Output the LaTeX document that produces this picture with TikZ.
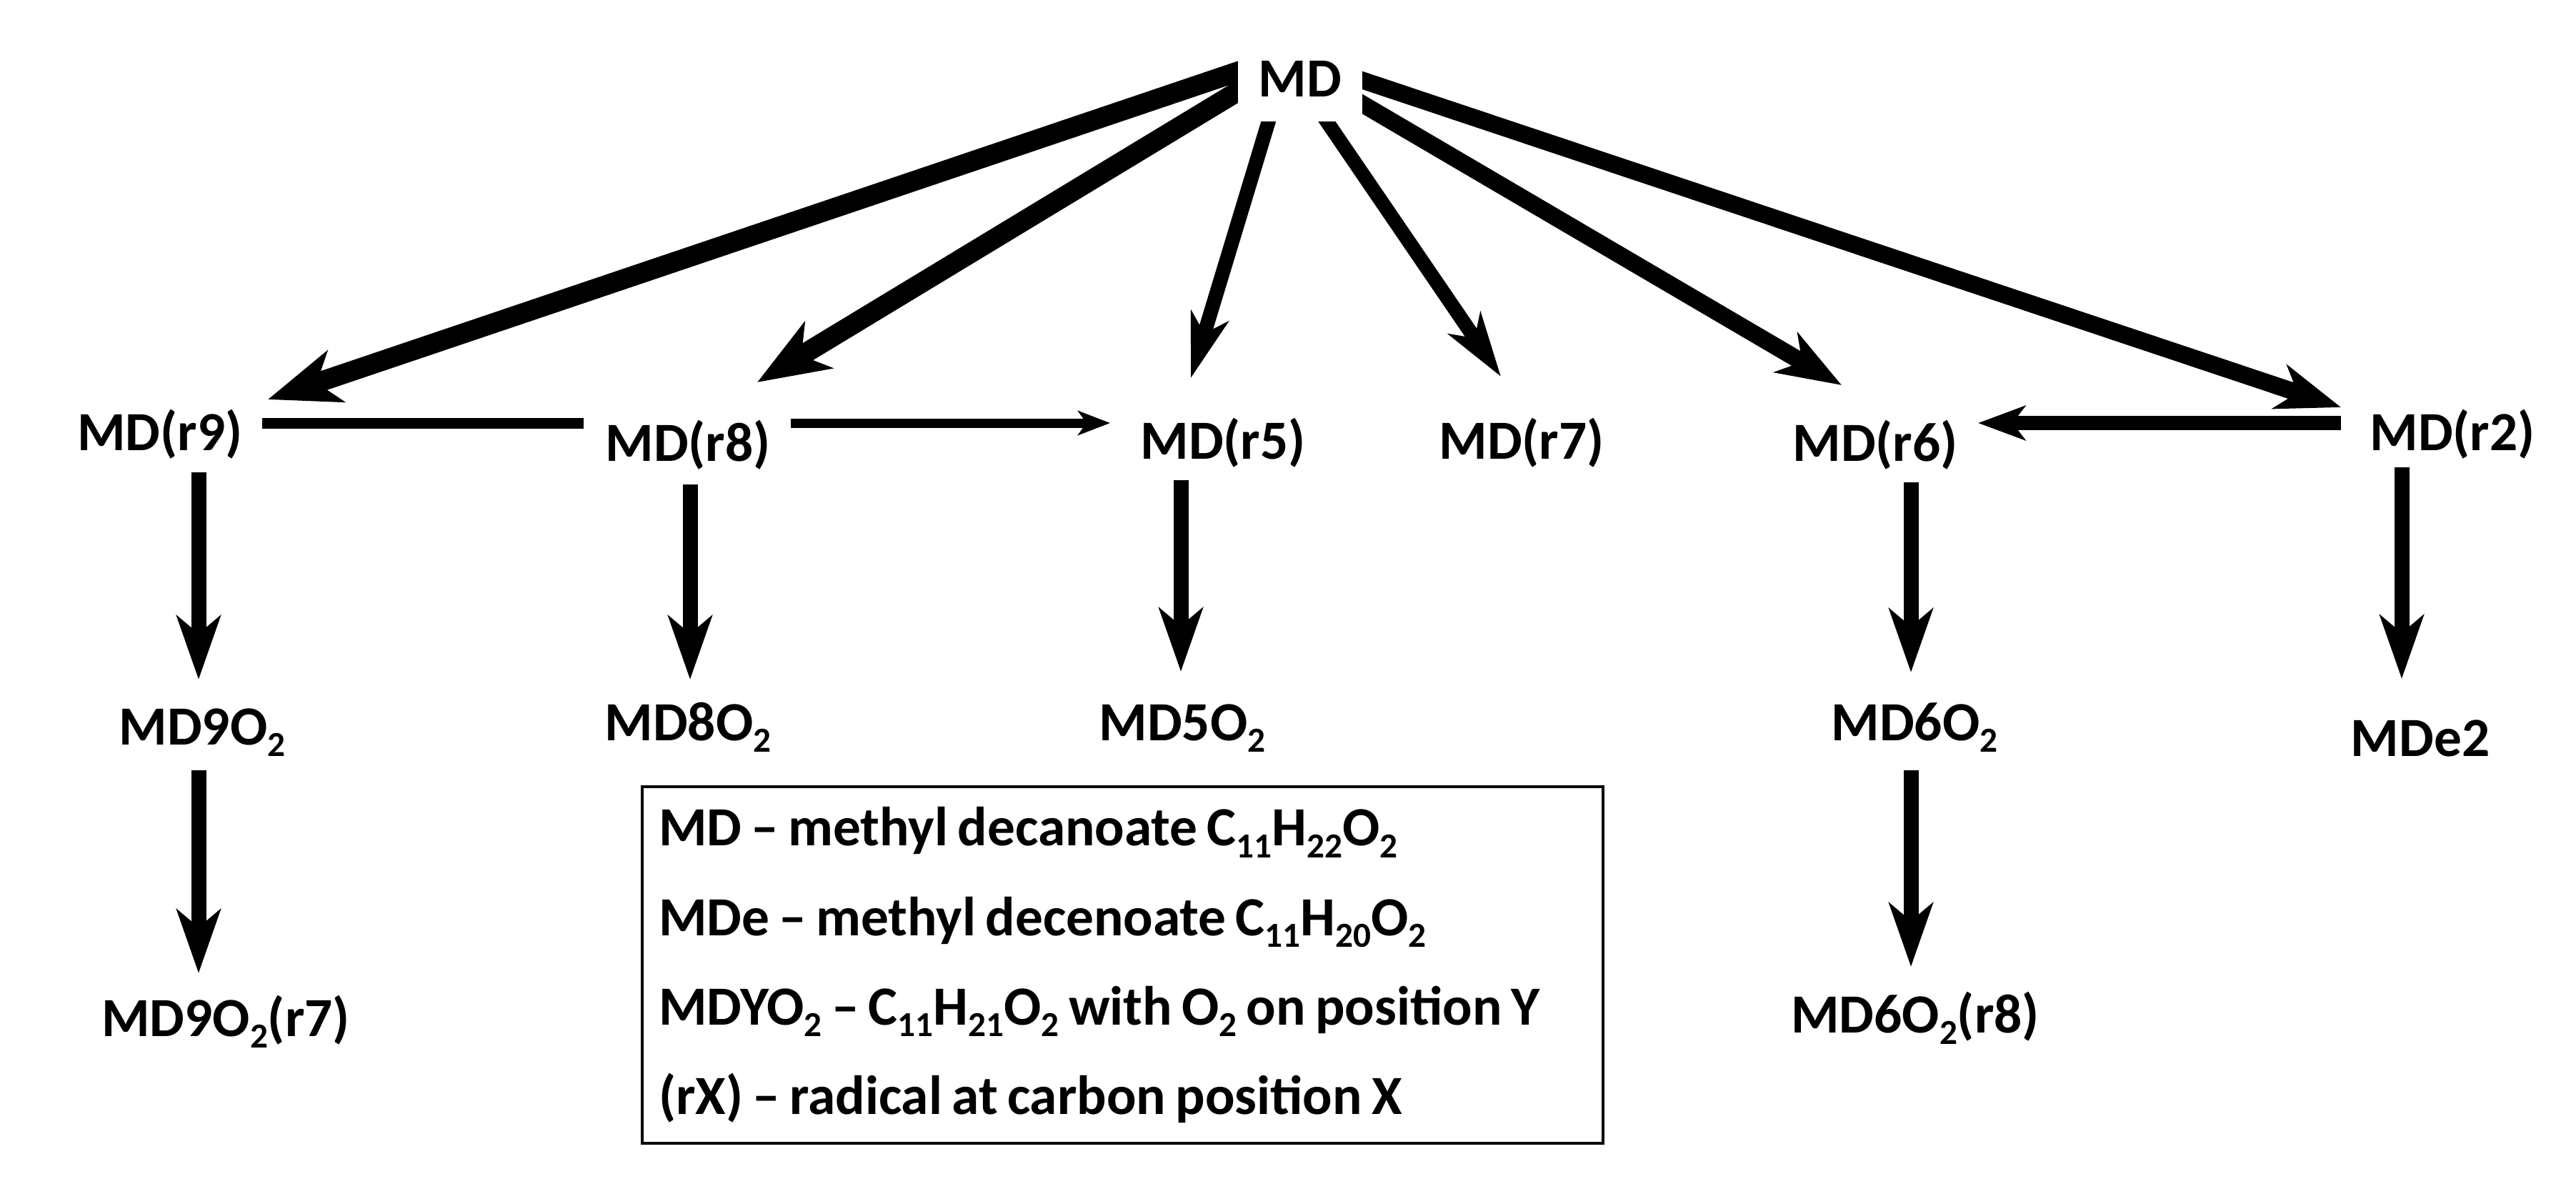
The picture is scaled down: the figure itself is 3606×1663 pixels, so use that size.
\documentclass[tikz,border=0pt]{standalone}
\usepackage{fontspec}
\setmainfont{Carlito}
\usetikzlibrary{arrows.meta}
\pgfdeclarelayer{bg}
\pgfsetlayers{bg,main}
\newcommand\sbx[1]{\raisebox{-4.6pt}{\fontsize{14}{14}\selectfont #1}}
\begin{document}
\begin{tikzpicture}[x=0.1mm,y=-0.1mm,
  lbl/.style={font=\fontsize{22}{26}\selectfont\bfseries, inner sep=0pt, anchor=base},
  diagbig/.style={draw=black, line width=2.8mm, -{Stealth[length=10mm,width=7.5mm,inset=2.8mm]}},
  diagmid/.style={draw=black, line width=2.4mm, -{Stealth[length=9mm,width=6.4mm,inset=2.6mm]}},
  diagthin/.style={draw=black, line width=2.0mm, -{Stealth[length=9mm,width=5.4mm,inset=2.5mm]}},
  vert/.style={draw=black, line width=2.1mm, -{Stealth[length=8.9mm,width=6.1mm,inset=2.5mm]}},
  horizbig/.style={draw=black, line width=2.0mm, -{Stealth[length=6.6mm,width=4.8mm,inset=1.8mm]}},
  horizsmall/.style={draw=black, line width=1.3mm, -{Stealth[length=4.5mm,width=3.4mm,inset=1.2mm]}},
  plainline/.style={draw=black, line width=1.5mm}]
\useasboundingbox (0,0) rectangle (3606,1663);
% nodes
\node[lbl, anchor=center, fill=white, minimum width=17.4mm, minimum height=12mm] (md) at (1820,110) {MD};
\node[lbl] (r9) at (224,630) {MD(r9)};
\node[lbl] (r8) at (963,645) {MD(r8)};
\node[lbl] (r5) at (1712,642) {MD(r5)};
\node[lbl] (r7) at (2130,642) {MD(r7)};
\node[lbl] (r6) at (2625,645) {MD(r6)};
\node[lbl] (r2) at (3433,630) {MD(r2)};
\node[lbl] (o9) at (283,1042) {MD9O\sbx{2}};
\node[lbl] (o8) at (963,1036) {MD8O\sbx{2}};
\node[lbl] (o5) at (1655,1036) {MD5O\sbx{2}};
\node[lbl] (o6) at (2680,1036) {MD6O\sbx{2}};
\node[lbl] (e2) at (3388,1058) {MDe2};
\node[lbl] (o9r) at (316,1450) {MD9O\sbx{2}(r7)};
\node[lbl] (o6r) at (2681,1445) {MD6O\sbx{2}(r8)};
\node[draw=black, line width=0.4mm, anchor=north west, text width=129.9mm,
  minimum height=49.9mm, inner xsep=2.3mm, inner ysep=0pt, align=left,
  font=\fontsize{22}{35.6}\selectfont\bfseries] (legend) at (897,1099)
  {\spaceskip=3.8pt plus 1pt minus 0.5pt\relax
   MD – methyl decanoate C\sbx{11}H\sbx{22}O\sbx{2}\\
   MDe – methyl decenoate C\sbx{11}H\sbx{20}O\sbx{2}\\
   MDYO\sbx{2} – C\sbx{11}H\sbx{21}O\sbx{2} with O\sbx{2} on position Y\\
   (rX) – radical at carbon position X};
% connectors
\begin{pgfonlayer}{bg}
\draw[diagbig] ([shift={(-63,-18)}]md.center) -- ([shift={(151,-71)}]r9.base);
\draw[diagbig] ([shift={(-66,5)}]md.center) -- ([shift={(97,-110)}]r8.base);
\draw[diagthin] ([shift={(-37,36)}]md.center) -- ([shift={(-45,-113)}]r5.base);
\draw[diagthin] ([shift={(23,39)}]md.center) -- ([shift={(-29,-115)}]r7.base);
\draw[diagmid] ([shift={(64,22)}]md.center) -- ([shift={(-47,-106)}]r6.base);
\draw[diagmid] ([shift={(62,-6)}]md.center) -- ([shift={(-156,-60)}]r2.base);
\draw[plainline] ([shift={(143,-38)}]r9.base) -- ([shift={(-146,-53)}]r8.base);
\draw[horizsmall] ([shift={(144,-53)}]r8.base) -- ([shift={(-158,-50)}]r5.base);
\draw[horizbig] ([shift={(-156,-38)}]r2.base) -- ([shift={(144,-53)}]r6.base);
\draw[vert] ([shift={(54,31)}]r9.base) -- ([shift={(-5,-91)}]o9.base);
\draw[vert] ([shift={(-5,36)}]o9.base) -- ([shift={(-38,-88)}]o9r.base);
\draw[vert] ([shift={(3,33)}]r8.base) -- ([shift={(3,-85)}]o8.base);
\draw[vert] ([shift={(-59,30)}]r5.base) -- ([shift={(-2,-96)}]o5.base);
\draw[vert] ([shift={(50,30)}]r6.base) -- ([shift={(-5,-95)}]o6.base);
\draw[vert] ([shift={(-5,42)}]o6.base) -- ([shift={(-6,-92)}]o6r.base);
\draw[vert] ([shift={(-71,24)}]r2.base) -- ([shift={(-26,-108)}]e2.base);
\end{pgfonlayer}
\end{tikzpicture}
\end{document}
